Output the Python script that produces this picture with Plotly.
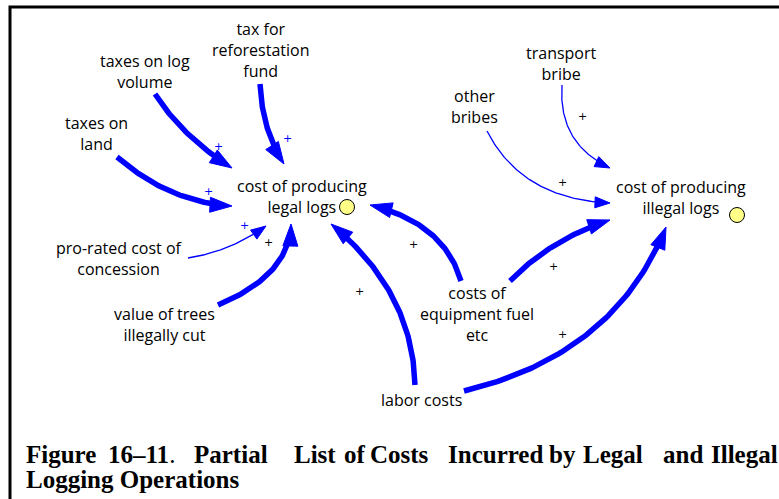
import numpy as np
import plotly.graph_objects as go

# ---- diagram data ----
node_names = ["tax_refor", "tax_logvol", "tax_land", "legal", "prorated", "trees_cut",
              "transport", "other_bribes", "illegal", "equipment", "labor"]
node_labels = ["tax for<br>reforestation<br>fund", "taxes on log<br>volume", "taxes on<br>land",
               "cost of producing<br>legal logs", "pro-rated cost of<br>concession",
               "value of trees<br>illegally cut", "transport<br>bribe", "other<br>bribes",
               "cost of producing<br>illegal logs", "costs of<br>equipment fuel<br>etc", "labor costs"]
link_source = ["tax_refor", "tax_logvol", "tax_land", "prorated", "trees_cut", "equipment",
               "labor", "equipment", "labor", "other_bribes", "transport"]
link_target = ["legal", "legal", "legal", "legal", "legal", "legal",
               "legal", "illegal", "illegal", "illegal", "illegal"]
link_polarity = ["+", "+", "+", "+", "+", "+", "+", "+", "+", "+", "+"]
stock_nodes = ["legal", "illegal"]
caption_words1 = ["<b>Figure</b>", "<b>16–11</b>.", "<b>Partial</b>", "<b>List</b>", "<b>of</b>",
                  "<b>Costs</b>", "<b>Incurred</b>", "<b>by</b>", "<b>Legal</b>", "<b>and</b>",
                  "<b>Illegal</b>"]
caption_line2 = "<b>Logging Operations</b>"

# ---- layout (pixel positions of the drawing) ----
node_pos = {
    "tax_refor": (260, 50), "tax_logvol": (145, 71), "tax_land": (96, 133),
    "legal": (302, 196), "prorated": (119, 258), "trees_cut": (164, 324),
    "transport": (561, 63), "other_bribes": (474, 106), "illegal": (681, 197),
    "equipment": (477, 314), "labor": (421, 400),
}
stock_circle = {"legal": (347, 207), "illegal": (737, 215)}
caption_word_x = [25, 107, 193, 293, 343, 369, 447, 548, 582, 662, 710]
# per link: start, end (tip), mid point of curve, width, head length, head half-width, sign pos, sign color
link_geom = [
    ((260, 84), (284, 164), (267, 127), 5.5, 22, 7.5, (287, 138), "#0000ff"),
    ((155, 94), (232, 168), (188, 134), 5.5, 22, 7.5, (218, 146), "#0000ff"),
    ((117, 157), (232, 206), (172, 192), 5.5, 22, 7.5, (208, 191), "#0000ff"),
    ((188, 258), (266, 226), (228, 247), 1.3, 15, 5.5, (244, 225), "#0000ff"),
    ((218, 305), (291, 224), (272, 270), 5.5, 22, 7.5, (268, 242), "#000000"),
    ((461, 281), (370, 205), (430, 233), 5.5, 22, 7.5, (413, 244), "#000000"),
    ((415, 385), (331, 224), (393, 298), 5.5, 22, 7.5, (359, 291), "#000000"),
    ((510, 281), (610, 220), (555, 245), 5.5, 22, 7.5, (553, 266), "#000000"),
    ((464, 391), (666, 227), (590, 332), 5.5, 22, 7.5, (562, 334), "#000000"),
    ((487, 131), (610, 203), (535, 183), 1.3, 15, 5.5, (562, 182), "#000000"),
    ((562, 85), (610, 168), (572, 135), 1.3, 15, 5.5, (582, 116), "#000000"),
]

W, H = 779, 499
BLUE = "#0000ff"
fig = go.Figure()

for (p0, p2, m, lw, hl, hw, spos, scol), pol in zip(link_geom, link_polarity):
    p0 = np.array(p0, float); p2 = np.array(p2, float); m = np.array(m, float)
    c = 2 * m - (p0 + p2) / 2
    d = p2 - c
    d = d / np.linalg.norm(d)
    n = np.array([-d[1], d[0]])
    base = p2 - hl * d
    t = np.linspace(0, 1, 80)
    pts = ((1 - t)[:, None] ** 2) * p0 + (2 * (1 - t) * t)[:, None] * c + (t[:, None] ** 2) * p2
    keep = np.linalg.norm(pts - p2, axis=1) >= hl * 0.7
    pts = pts[keep]
    fig.add_trace(go.Scatter(x=pts[:, 0], y=pts[:, 1], mode="lines",
                             line=dict(color=BLUE, width=lw), hoverinfo="skip", showlegend=False))
    head = np.array([p2, base + hw * n, base - hw * n, p2])
    fig.add_trace(go.Scatter(x=head[:, 0], y=head[:, 1], mode="lines", fill="toself",
                             fillcolor=BLUE, line=dict(color=BLUE, width=1),
                             hoverinfo="skip", showlegend=False))
    fig.add_annotation(x=spos[0], y=spos[1], text=pol, showarrow=False,
                       font=dict(family="DejaVu Sans", size=11, color=scol))

for name, label in zip(node_names, node_labels):
    x, y = node_pos[name]
    fig.add_annotation(x=x, y=y, text=label, showarrow=False,
                       font=dict(family="Open Sans", size=16, color="black"))

fig.add_trace(go.Scatter(x=[stock_circle[s][0] for s in stock_nodes],
                         y=[stock_circle[s][1] for s in stock_nodes], mode="markers",
                         marker=dict(size=15, color="#ffff88", line=dict(color="black", width=1)),
                         hoverinfo="skip", showlegend=False))

for wx, word in zip(caption_word_x, caption_words1):
    fig.add_annotation(x=wx, y=454, text=word, showarrow=False, xanchor="left",
                       borderpad=0,
                       font=dict(family="Liberation Serif", size=25, color="black"))
fig.add_annotation(x=25, y=479, text=caption_line2, showarrow=False, xanchor="left",
                   borderpad=0,
                   font=dict(family="Liberation Serif", size=25, color="black"))

fig.add_shape(type="rect", x0=10, y0=7, x1=800, y1=520, line=dict(color="black", width=3))

fig.update_layout(width=W, height=H, autosize=False, margin=dict(l=0, r=0, t=0, b=0),
                  paper_bgcolor="white", plot_bgcolor="white",
                  xaxis=dict(range=[0, W], visible=False, fixedrange=True),
                  yaxis=dict(range=[H, 0], visible=False, fixedrange=True))
fig.write_html("out.html", config={"displayModeBar": False},
               post_script="document.body.style.margin='0';document.body.style.overflow='hidden';")
